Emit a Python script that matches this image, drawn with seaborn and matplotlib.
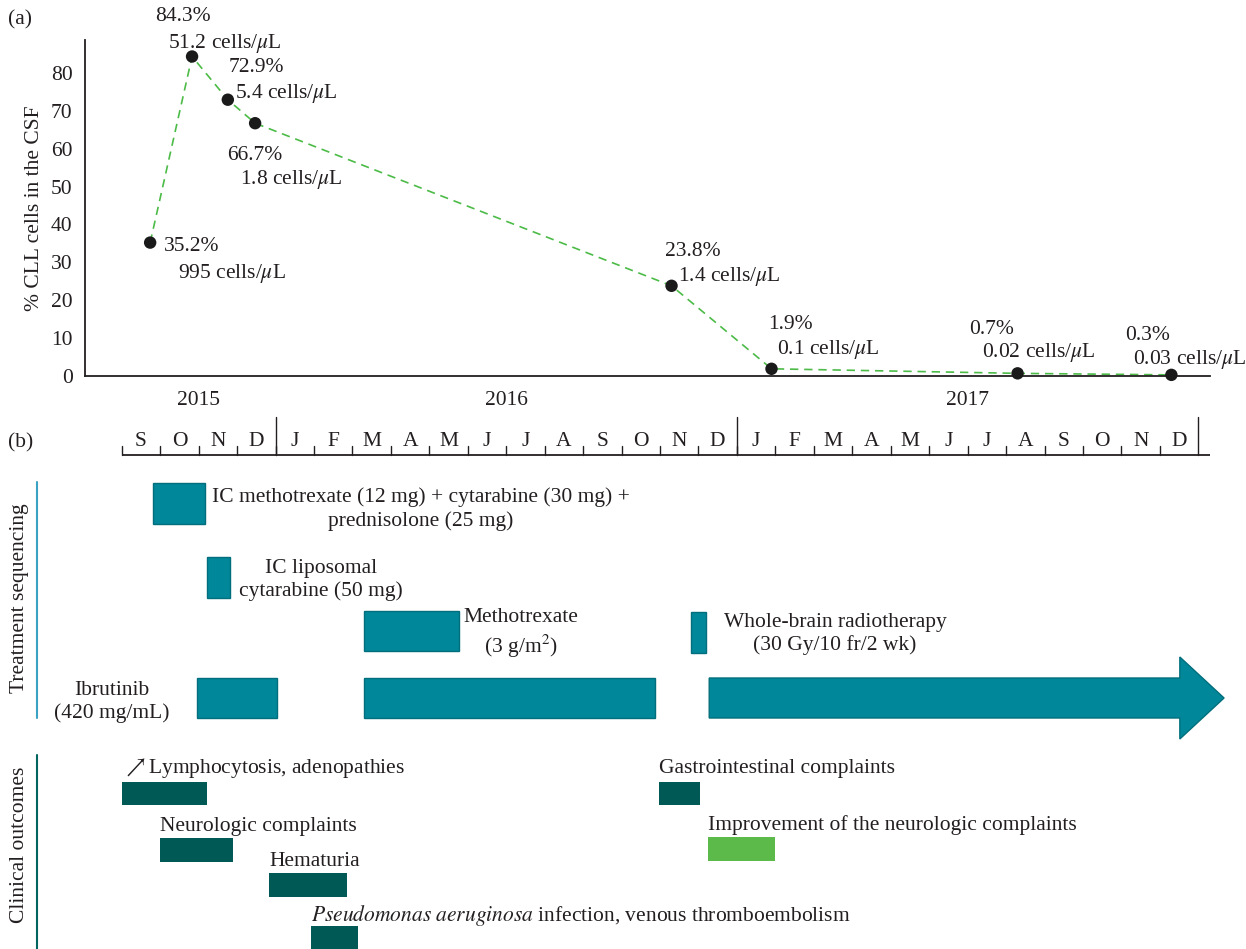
import numpy as np
import pandas as pd
import matplotlib
matplotlib.use("Agg")
import matplotlib.pyplot as plt
from matplotlib.patches import Polygon
from matplotlib.lines import Line2D
import seaborn as sns

# ---------------- data ----------------
# time axis: months since 1 Sep 2015
csf_month = [0.74, 1.83, 2.76, 3.47, 14.3, 16.9, 23.3, 27.3]
csf_pct = [35.2, 84.3, 72.9, 66.7, 23.8, 1.9, 0.7, 0.3]
csf_pct_text = ["35.2%", "84.3%", "72.9%", "66.7%", "23.8%", "1.9%", "0.7%", "0.3%"]
csf_cells_text = ["995", "51.2", "5.4", "1.8", "1.4", "0.1", "0.02", "0.03"]

month_letters = ["S", "O", "N", "D",
                 "J", "F", "M", "A", "M", "J", "J", "A", "S", "O", "N", "D",
                 "J", "F", "M", "A", "M", "J", "J", "A", "S", "O", "N", "D"]
year_labels = ["2015", "2016", "2017"]
year_label_month = [2, 10, 22]
year_start_month = [4, 16, 28]

treat_labels = ["IC methotrexate (12 mg) + cytarabine (30 mg) +\nprednisolone (25 mg)",
                "IC liposomal\ncytarabine (50 mg)",
                "Methotrexate\n(3 g/m$^2$)",
                "Whole-brain radiotherapy\n(30 Gy/10 fr/2 wk)",
                "Ibrutinib\n(420 mg/mL)"]
treat_start = [0.81, 2.22, 6.30, 14.80, 1.96, 6.30, 15.28]
treat_end = [2.17, 2.82, 8.77, 15.20, 4.04, 13.87, 28.67]

out_labels = [r"$\nearrow$Lymphocytosis, adenopathies",
              "Neurologic complaints",
              "Hematuria",
              r"$\mathit{Pseudomonas\ aeruginosa}$ infection, venous thromboembolism",
              "Gastrointestinal complaints",
              "Improvement of the neurologic complaints"]
out_start = [0.01, 1.00, 3.83, 4.92, 13.97, 15.25]
out_end = [2.22, 2.89, 5.86, 6.15, 15.04, 16.99]
out_improved = [False, False, False, False, False, True]

# ---------------- layout / style ----------------
W, H = 1246, 949
TXT = "#231f20"
TEAL = "#00889a"
TEAL_EDGE = "#006e7c"
DARK = "#005955"
GREEN_BAR = "#5cba4a"
LINE_GREEN = "#4cbb47"
FS = 15.5

# pixel layout of panel (b): bar centre y, bar height, text centre y, text x (months)
treat_bar_y = [503.5, 577.5, 631.0, 632.5, 698.0, 698.0, 698.0]
treat_bar_h = [41, 41, 40, 41, 40, 40, 40]
treat_text_x = [7.78, 5.18, 10.39, 18.55, -0.25]
treat_text_y = [509, 580, 634, 634, 702]
arrow_head_len = 1.15
arrow_head_h = 82

out_bar_y = [793.5, 850.0, 885.0, 937.5, 793.5, 849.0]
out_bar_h = [23, 24, 24, 23, 23, 24]
out_text_y = [768, 827, 862, 916, 768, 825]

# label offsets in pixels (dx, dy: down positive) for percentage / cell-count labels
pct_off = [(14, 4), (-37, -40), (1, -32), (-28, 32), (-7, -34), (-3, -44), (-48, -44), (-46, -39)]
cell_off = [(28, 31), (-24, -13), (7, -6), (-15, 56), (6, -9), (5, -19), (-36, -21), (-38, -15)]

sns.set_style("white")
plt.rcParams["font.family"] = ["Liberation Serif", "DejaVu Serif"]
plt.rcParams["mathtext.fontset"] = "stix"
plt.rcParams["text.color"] = TXT
plt.rcParams["axes.labelcolor"] = TXT
plt.rcParams["xtick.color"] = TXT
plt.rcParams["ytick.color"] = TXT

fig = plt.figure(figsize=(W / 100, H / 100), dpi=100)

def px_to_fig(x, y):
    return x / W, 1 - y / H

x0_px, x1_px = 85, 1210
m0_px, m_per_px = 121.7, 38.45
xlim = ((x0_px - m0_px) / m_per_px, (x1_px - m0_px) / m_per_px)

# ---------------- panel (a) ----------------
top_px, bot_px = 40, 376
axa = fig.add_axes([x0_px / W, 1 - bot_px / H, (x1_px - x0_px) / W, (bot_px - top_px) / H])
df = pd.DataFrame({"month": csf_month, "pct": csf_pct})
sns.lineplot(data=df, x="month", y="pct", ax=axa, color=LINE_GREEN, linewidth=1.2,
             linestyle=(0, (5, 3.5)), zorder=2)
sns.scatterplot(data=df, x="month", y="pct", ax=axa, color="#1a1a1a", s=80,
                edgecolor="none", zorder=3, clip_on=False)
axa.set_xlim(*xlim)
axa.set_ylim(0, (bot_px - top_px) / 3.79)
axa.set_yticks(range(0, 81, 10))
axa.set_xticks(range(0, 29))
xl = [""] * 29
for lab, m in zip(year_labels, year_label_month):
    xl[m] = lab
axa.set_xticklabels(xl)
axa.tick_params(axis="both", direction="out", length=6, width=1.1, labelsize=FS, pad=3)
axa.tick_params(axis="x", pad=5)
for s in ["top", "right"]:
    axa.spines[s].set_visible(False)
for s in ["left", "bottom"]:
    axa.spines[s].set_linewidth(1.3)
    axa.spines[s].set_color(TXT)
axa.set_xlabel("")
axa.set_ylabel("% CLL cells in the CSF", fontsize=FS, labelpad=5)

for m, p, t, c, po, co in zip(csf_month, csf_pct, csf_pct_text, csf_cells_text, pct_off, cell_off):
    axa.annotate(t, (m, p), xytext=(po[0], -po[1]), textcoords="offset pixels",
                 ha="left", va="center", fontsize=FS)
    axa.annotate(c + r" cells/$\mu$L", (m, p), xytext=(co[0], -co[1]), textcoords="offset pixels",
                 ha="left", va="center", fontsize=FS)

# ---------------- panel (b) ----------------
b_top = 405
axb = fig.add_axes([x0_px / W, 0, (x1_px - x0_px) / W, (H - b_top) / H])
axb.set_xlim(*xlim)
axb.set_ylim(H, b_top)
axb.axis("off")

# month strip
n_m = len(month_letters)
axb.plot([0, n_m + 0.3], [455, 455], color=TXT, lw=1.3, solid_capstyle="butt")
for i, lab in enumerate(month_letters):
    axb.plot([i, i], [446, 455], color=TXT, lw=1.0)
    axb.text(i + 0.5, 441, lab, ha="center", va="center", fontsize=FS)
for m in year_start_month:
    axb.plot([m, m], [417, 455], color=TXT, lw=1.0)

# treatments
for k, (s, e, yc, h) in enumerate(zip(treat_start, treat_end, treat_bar_y, treat_bar_h)):
    if k == len(treat_start) - 1:
        body_end = e - arrow_head_len
        poly = Polygon([(s, yc - h / 2), (body_end, yc - h / 2), (body_end, yc - arrow_head_h / 2),
                        (e, yc), (body_end, yc + arrow_head_h / 2), (body_end, yc + h / 2),
                        (s, yc + h / 2)], closed=True, facecolor=TEAL, edgecolor=TEAL_EDGE,
                       lw=1.0, clip_on=False)
        axb.add_patch(poly)
    else:
        axb.barh(yc, e - s, left=s, height=h, color=TEAL, edgecolor=TEAL_EDGE, linewidth=1.0)
for lab, tx, ty in zip(treat_labels, treat_text_x, treat_text_y):
    axb.text(tx, ty, lab, ha="center", va="center", fontsize=FS, multialignment="center",
             linespacing=1.25)

# clinical outcomes
for s, e, yc, h, imp, lab, ty in zip(out_start, out_end, out_bar_y, out_bar_h, out_improved,
                                     out_labels, out_text_y):
    axb.barh(yc, e - s, left=s, height=h, color=GREEN_BAR if imp else DARK, linewidth=0)
    axb.text(s, ty, lab, ha="left", va="center", fontsize=FS)

# left section labels and lines
fig.text(*px_to_fig(20, 598), "Treatment sequencing", rotation=90, ha="center", va="center",
         fontsize=FS)
fig.text(*px_to_fig(20, 845), "Clinical outcomes", rotation=90, ha="center", va="center",
         fontsize=FS)
fig.add_artist(Line2D([37 / W, 37 / W], [1 - 482 / H, 1 - 718 / H], color="#3aa2c2", lw=1.5))
fig.add_artist(Line2D([37 / W, 37 / W], [1 - 755 / H, 1 - 949 / H], color="#00655f", lw=1.5))

fig.text(*px_to_fig(8, 20), "(a)", ha="left", va="center", fontsize=FS)
fig.text(*px_to_fig(8, 443), "(b)", ha="left", va="center", fontsize=FS)

fig.savefig("out.png", dpi=100)
